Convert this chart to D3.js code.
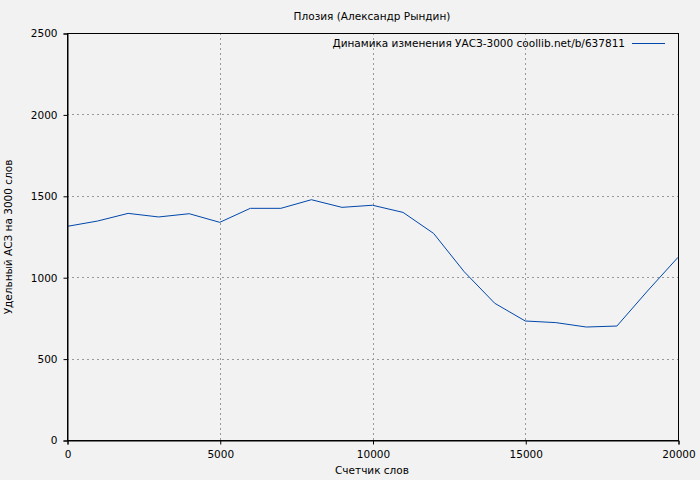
<!DOCTYPE html>
<html><head><meta charset="utf-8">
<script src="https://cdn.jsdelivr.net/npm/d3@7"></script>
<style>
html,body{margin:0;padding:0;background:#f2f2f2;}
svg{display:block;font-family:"DejaVu Sans",sans-serif;}
</style></head>
<body>
<svg id="c" width="700" height="480"></svg>
<script>
const title = "Плозия (Александр Рындин)";
const legendLabel = "Динамика изменения УАСЗ-3000 coollib.net/b/637811";
const xLabel = "Счетчик слов";
const yLabel = "Удельный АСЗ на 3000 слов";
const words = [0,1000,2000,3000,4000,5000,6000,7000,8000,9000,10000,11000,12000,13000,14000,15000,16000,17000,18000,19000,20000];
const values = [1312,1345,1392,1370,1390,1337,1423,1423,1476,1429,1442,1398,1269,1034,840,731,721,694,700,915,1122];
const xTicks = [0,5000,10000,15000,20000];
const yTicks = [0,500,1000,1500,2000,2500];

const svg = d3.select("#c");
const m = {l:67, r:678, t:33, b:440};
const x = d3.scaleLinear().domain([0,20000]).range([m.l, m.r]);
const y = d3.scaleLinear().domain([0,2500]).range([m.b, m.t]);
const fs = 10.5;

svg.append("rect").attr("width",700).attr("height",480).attr("fill","#f2f2f2");

// grid
const g = svg.append("g");
g.selectAll(".gx").data(xTicks.slice(1,-1)).join("line")
  .attr("x1",d=>Math.round(x(d))+0.5).attr("x2",d=>Math.round(x(d))+0.5)
  .attr("y1",m.t).attr("y2",m.b)
  .attr("stroke","#999").attr("stroke-width",1).attr("stroke-dasharray","2,3");
g.selectAll(".gy").data(yTicks.slice(1,-1)).join("line")
  .attr("y1",d=>Math.round(y(d))+0.5).attr("y2",d=>Math.round(y(d))+0.5)
  .attr("x1",m.l).attr("x2",m.r)
  .attr("stroke","#999").attr("stroke-width",1).attr("stroke-dasharray","2,3");

// line
svg.append("path").datum(words.map((w,i)=>[w,values[i]]))
  .attr("fill","none").attr("stroke","#0047ab").attr("stroke-width",1)
  .attr("d", d3.line().x(d=>x(d[0])).y(d=>y(d[1])));

// frame
svg.append("rect").attr("x",m.l+0.5).attr("y",m.t+0.5)
  .attr("width",m.r-m.l).attr("height",m.b-m.t)
  .attr("fill","none").attr("stroke","#000").attr("stroke-width",1);

// axes
const xa = svg.append("g").attr("transform",`translate(0.5,${m.b+0.5})`)
  .call(d3.axisBottom(x).tickValues(xTicks).tickSize(4).tickPadding(6).tickFormat(d3.format("d")));
const ya = svg.append("g").attr("transform",`translate(${m.l+0.5},0.5)`)
  .call(d3.axisLeft(y).tickValues(yTicks).tickSize(4).tickPadding(6).tickFormat(d3.format("d")));
[xa,ya].forEach(a=>{
  a.select(".domain").attr("stroke","#000");
  a.selectAll("line").attr("stroke","#000");
  a.selectAll("text").attr("font-family","DejaVu Sans").attr("font-size",fs).attr("fill","#000");
});

// texts
svg.append("text").attr("x",372).attr("y",20).attr("text-anchor","middle")
  .attr("font-size",fs).text(title);
svg.append("text").attr("x",372).attr("y",474).attr("text-anchor","middle")
  .attr("font-size",fs).text(xLabel);
svg.append("text").attr("transform","translate(12,237) rotate(-90)").attr("text-anchor","middle")
  .attr("font-size",fs).text(yLabel);

// legend
svg.append("text").attr("x",625).attr("y",47).attr("text-anchor","end")
  .attr("font-size",fs).text(legendLabel);
svg.append("line").attr("x1",632).attr("x2",665).attr("y1",43.5).attr("y2",43.5)
  .attr("stroke","#0047ab").attr("stroke-width",1);
</script>
</body></html>
